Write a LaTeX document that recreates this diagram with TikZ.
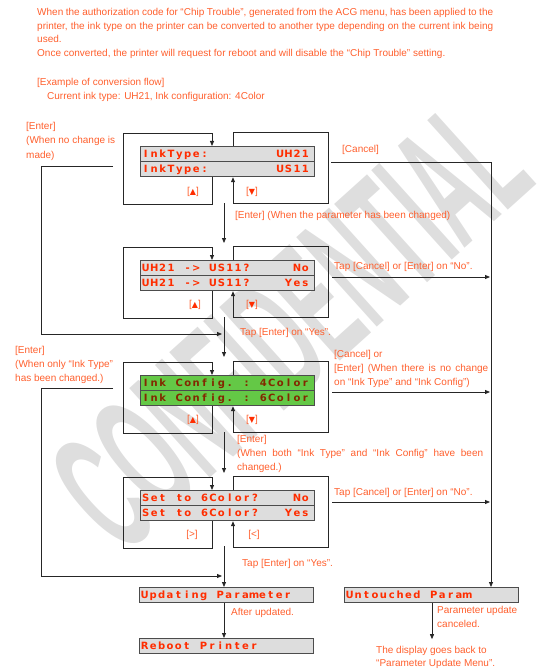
\documentclass[tikz,border=0pt]{standalone}
\usepackage{fontspec}
\setmainfont{Liberation Sans}
\newfontfamily\lcdfont{DejaVu Sans}[BoldFont={DejaVu Sans Bold}]
\newfontfamily\symfont{DejaVu Sans}
\usetikzlibrary{arrows.meta}

\definecolor{labeltext}{RGB}{255,95,45}
\definecolor{lcdred}{RGB}{255,45,0}
\definecolor{lcdbrown}{RGB}{130,40,0}
\definecolor{lcdgray}{RGB}{221,221,221}
\definecolor{lcdgreen}{RGB}{100,200,70}
\definecolor{markgray}{RGB}{222,222,222}

\makeatletter
\newcommand\lcdtext[1]{\makebox[174pt][l]{\hspace{1pt}\@tfor\lcdch:=#1\do{\makebox[8.4pt][c]{\lcdch}}}}
\makeatother
\newcommand\up{{\symfont\fontsize{8}{8}\selectfont\color{lcdred}▲}}
\newcommand\down{{\symfont\fontsize{8}{8}\selectfont\color{lcdred}▼}}

\begin{document}
\begin{tikzpicture}[x=1pt, y=-1pt,
  lbl/.style={anchor=base west, inner sep=0pt, text=labeltext, font=\fontsize{10}{12}\selectfont},
  keylbl/.style={inner sep=0pt, text=labeltext, font=\fontsize{10}{12}\selectfont},
  lcd/.style={draw=black!70, line width=1.2pt, fill=lcdgray, anchor=north west, inner sep=0pt,
    minimum height=15pt, text height=7.3pt, text depth=0pt, text=lcdred,
    font=\lcdfont\bfseries\fontsize{10}{12}\selectfont},
  lcdg/.style={lcd, fill=lcdgreen, text=lcdbrown},
  link/.style={line width=0.8pt, draw=black!85, -{Triangle[length=5pt,width=4pt]}}]

  \useasboundingbox (0,0) rectangle (553,671);

  % watermark
  \node[rotate=42, xscale=0.43, text=markgray, font=\bfseries\fontsize{175}{175}\selectfont] (mark) at (290,325) {CONFIDENTIAL};

  % introduction
  \node[lbl] (intro1) at (37,15.5) {\makebox[456pt][s]{When the authorization code for “Chip Trouble”, generated from the ACG menu, has been applied to the}};
  \node[lbl] (intro2) at (37,29.3) {\makebox[456pt][s]{printer, the ink type on the printer can be converted to another type depending on the current ink being}};
  \node[lbl] (intro3) at (37,43) {used.};
  \node[lbl] (intro4) at (37,57) {Once converted, the printer will request for reboot and will disable the “Chip Trouble” setting.};
  \node[lbl] (example) at (37,85.5) {[Example of conversion flow]};
  \node[lbl] (current) at (47,100) {Current ink type: UH21, Ink configuration: 4Color};

  % displays
  \node[lcd] (type1) at (140,146) {\lcdtext{InkType:~~~~~~~~UH21}};
  \node[lcd] (type2) at (140,161) {\lcdtext{InkType:~~~~~~~~US11}};
  \node[lcd] (conv1) at (140,260) {\lcdtext{UH21~->~US11?~~~~~No}};
  \node[lcd] (conv2) at (140,275) {\lcdtext{UH21~->~US11?~~~~Yes}};
  \node[lcdg] (conf1) at (140,375) {\lcdtext{Ink~Config.~:~4Color}};
  \node[lcdg] (conf2) at (140,390) {\lcdtext{Ink~Config.~:~6Color}};
  \node[lcd] (set1) at (140,490) {\lcdtext{Set~to~6Color?~~~~No}};
  \node[lcd] (set2) at (140,505) {\lcdtext{Set~to~6Color?~~~Yes}};
  \node[lcd] (upd) at (139,587) {\lcdtext{Updating~Parameter}};
  \node[lcd] (reboot) at (139,638) {\lcdtext{Reboot~Printer}};
  \node[lcd] (untouch) at (344,587) {\lcdtext{Untouched~Param}};

  % key loops
  \draw[link] ([xshift=72pt]type2.south west) -- ++(0,27) -- ++(-89,0) -- ++(0,-71) -- ++(89,0) -- ([xshift=72pt]type1.north west);
  \draw[link] ([xshift=93pt]type1.north west) -- ++(0,-14) -- ++(95,0) -- ++(0,71) -- ++(-95,0) -- ([xshift=93pt]type2.south west);
  \draw[link] ([xshift=72pt]conv2.south west) -- ++(0,27) -- ++(-89,0) -- ++(0,-71) -- ++(89,0) -- ([xshift=72pt]conv1.north west);
  \draw[link] ([xshift=93pt]conv1.north west) -- ++(0,-14) -- ++(95,0) -- ++(0,71) -- ++(-95,0) -- ([xshift=93pt]conv2.south west);
  \draw[link] ([xshift=72pt]conf2.south west) -- ++(0,27) -- ++(-89,0) -- ++(0,-71) -- ++(89,0) -- ([xshift=72pt]conf1.north west);
  \draw[link] ([xshift=93pt]conf1.north west) -- ++(0,-14) -- ++(95,0) -- ++(0,71) -- ++(-95,0) -- ([xshift=93pt]conf2.south west);
  \draw[link] ([xshift=72pt]set2.south west) -- ++(0,27) -- ++(-89,0) -- ++(0,-71) -- ++(89,0) -- ([xshift=72pt]set1.north west);
  \draw[link] ([xshift=93pt]set1.north west) -- ++(0,-14) -- ++(95,0) -- ++(0,71) -- ++(-95,0) -- ([xshift=93pt]set2.south west);
  \node[keylbl] (up1) at (193,192) {[\up]};
  \node[keylbl] (dn1) at (252,192) {[\down]};
  \node[keylbl] (up2) at (195,305) {[\up]};
  \node[keylbl] (dn2) at (252,305) {[\down]};
  \node[keylbl] (up3) at (193,420) {[\up]};
  \node[keylbl] (dn3) at (252,420) {[\down]};
  \node[keylbl] (up4) at (192,535) {[>]};
  \node[keylbl] (dn4) at (254,535) {[<]};

  % main flow
  \coordinate (out1) at (224,203);
  \coordinate (in2) at (224,243);
  \coordinate (out2) at (224,317);
  \coordinate (in3) at (224,357);
  \coordinate (out3) at (224,432);
  \coordinate (in4) at (224,473);
  \coordinate (out4) at (224,546);
  \draw[link] (out1) -- (in2);
  \draw[link] (out2) -- (in3);
  \draw[link] (out3) -- (in4);
  \draw[link] (out4) -- (upd.north -| out4);
  \draw[link] (upd.south -| out4) -- (reboot.north -| out4);

  % returns on the left
  \coordinate (back1) at (113,166);
  \coordinate (join1) at (222,334);
  \coordinate (back2) at (113,388);
  \coordinate (join2) at (222,576);
  \draw[link] (back1) -- (41,166) |- (join1);
  \draw[link] (back2) -- (41,388) |- (join2);

  % cancel side
  \coordinate (cancel) at (331,162);
  \coordinate (rail) at (490,0);
  \coordinate (no1) at (332,277);
  \coordinate (no2) at (332,392);
  \coordinate (no3) at (332,502);
  \draw[link] (cancel) -| ([xshift=147pt]untouch.north west);
  \draw[link] (no1) -- (no1 -| rail);
  \draw[link] (no2) -- (no2 -| rail);
  \draw[link] (no3) -- (no3 -| rail);
  \draw[link] ([xshift=88pt]untouch.south west) -- ++(0,36);

  % labels
  \node[lbl] (nochg1) at (26,129.5) {[Enter]};
  \node[lbl] (nochg2) at (26,144) {(When no change is};
  \node[lbl] (nochg3) at (26,158) {made)};
  \node[lbl] (cnl1) at (342,152.5) {[Cancel]};
  \node[lbl] (chg1) at (235,218.5) {[Enter] (When the parameter has been changed)};
  \node[lbl] (tapno1) at (334,269.5) {Tap [Cancel] or [Enter] on “No”.};
  \node[lbl] (tapyes1) at (240,335.5) {Tap [Enter] on “Yes”.};
  \node[lbl] (only1) at (15,353.5) {[Enter]};
  \node[lbl] (only2) at (15,367.5) {(When only “Ink Type”};
  \node[lbl] (only3) at (15,381.5) {has been changed.)};
  \node[lbl] (cnl2a) at (334,357.5) {[Cancel] or};
  \node[lbl] (cnl2b) at (334,371.5) {\makebox[154pt][s]{[Enter] (When there is no change}};
  \node[lbl] (cnl2c) at (334,385.5) {on “Ink Type” and “Ink Config”)};
  \node[lbl] (both1) at (237,442.5) {[Enter]};
  \node[lbl] (both2) at (237,456.5) {\makebox[246pt][s]{(When both “Ink Type” and “Ink Config” have been}};
  \node[lbl] (both3) at (237,470.5) {changed.)};
  \node[lbl] (tapno2) at (334,495) {Tap [Cancel] or [Enter] on “No”.};
  \node[lbl] (tapyes2) at (242,566.5) {Tap [Enter] on “Yes”.};
  \node[lbl] (after) at (231,615) {After updated.};
  \node[lbl] (undo1) at (437,613.5) {Parameter update};
  \node[lbl] (undo2) at (437,627.5) {canceled.};
  \node[lbl] (menu1) at (376,653.5) {The display goes back to};
  \node[lbl] (menu2) at (376,666) {“Parameter Update Menu”.};
\end{tikzpicture}
\end{document}
